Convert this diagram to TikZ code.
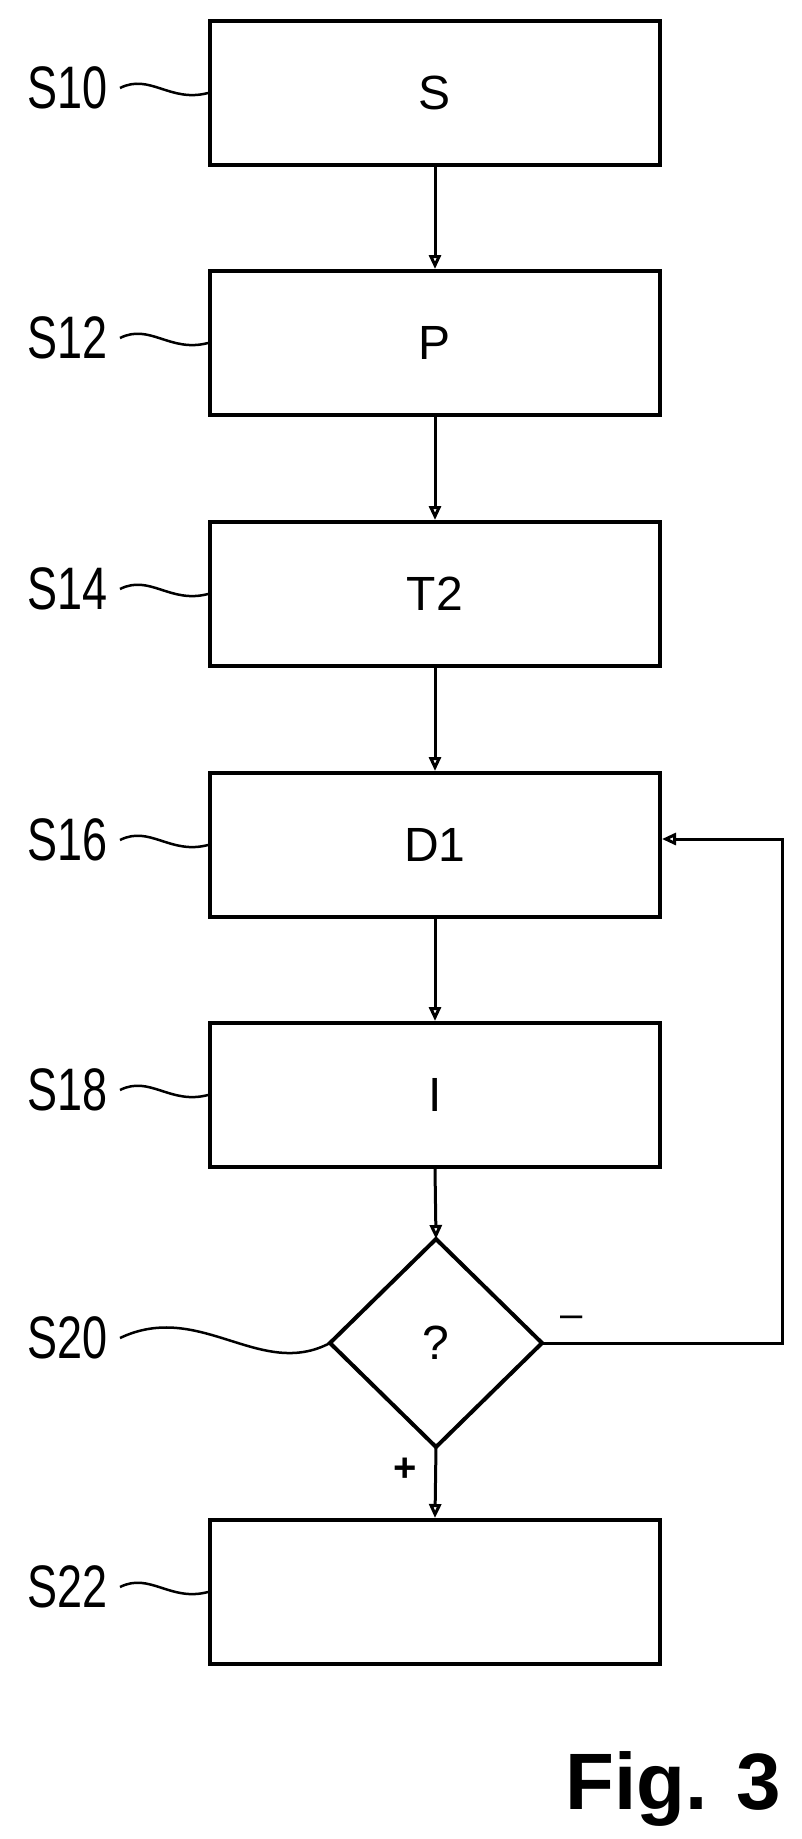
\documentclass[tikz,border=0pt]{standalone}
\usepackage{fontspec}
\setmainfont{Liberation Sans}
\usetikzlibrary{arrows.meta}
\begin{document}
\begin{tikzpicture}[x=1pt,y=-1pt,
  box/.style={draw,line width=4pt,minimum width=450pt,minimum height=144pt,inner sep=0pt,font=\fontsize{48}{54}\selectfont},
  lab/.style={font=\fontsize{60}{66}\selectfont,xscale=0.75,anchor=east},
  ar/.style={line width=3pt,-{Triangle[open,length=14pt,width=12pt]}},
  wav/.style={line width=2.5pt}]
\useasboundingbox (0,0) rectangle (801,1839);
\node[box] (s10) at (435,93) {S};
\node[box] (s12) at (435,343) {P};
\node[box] (s14) at (435,594) {T2};
\node[box] (s16) at (435,845) {D1};
\node[box] (s18) at (435,1095) {I};
\draw[line width=4pt] (330,1343) coordinate (dl) -- (436,1239) coordinate (dt) -- (542,1343) coordinate (dr) -- (436,1447) coordinate (db) -- cycle;
\node[font=\fontsize{48}{54}\selectfont] (q) at (436,1343) {?};
\node[box] (s22) at (435,1592) {};
\foreach \n/\t/\y in {s10/S10/93,s12/S12/343,s14/S14/594,s16/S16/845,s18/S18/1095,s22/S22/1592}{
  \node[lab] (l\n) at (110,\y-5) {\t};
  \draw[wav] (120,\y-5) .. controls (150,\y-20) and (170,\y+10) .. (\n.west);
}
\node[lab] (ls20) at (110,1338) {S20};
\draw[wav] (120,1338) .. controls (200,1300) and (260,1380) .. (dl);
\draw[ar] (s10) -- (s12);
\draw[ar] (s12) -- (s14);
\draw[ar] (s14) -- (s16);
\draw[ar] (s16) -- (s18);
\draw[ar] (s18.south) -- (dt);
\draw[ar] (db) -- (s22.north);
\coordinate (c1) at (782,1343);
\coordinate (c2) at (782,839);
\draw[ar] (dr) -- (c1) -- (c2) -- (s16.east |- c2);
\node[font=\fontsize{40}{44}\selectfont] (minus) at (572,1322) {--};
\node[font=\fontsize{40}{44}\selectfont\bfseries] (plus) at (405,1470) {+};
\node[font=\fontsize{80}{90}\selectfont\bfseries,anchor=south east] (fig) at (785,1830) {Fig. 3};
\end{tikzpicture}
\end{document}
